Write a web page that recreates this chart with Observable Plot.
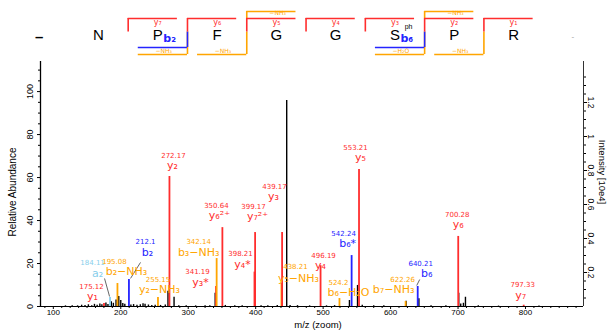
<!DOCTYPE html>
<html><head><meta charset="utf-8">
<script src="https://cdn.jsdelivr.net/npm/d3@7"></script>
<script src="https://cdn.jsdelivr.net/npm/@observablehq/plot@0.6"></script>
<style>
html,body{margin:0;padding:0;background:#fff;}
#seq svg,#main svg{display:block;}
</style></head><body>
<div id="seq"></div><div id="main"></div>
<script>
// ---------- DATA ----------
const residues = ["N","P","F","G","G","S","P","R"];
const modSites = [5];
const modLabels = ["ph"];
const yIonNums = [7,6,5,4,3,2,1];
const yLossNums = [5,2];
const yLossLabels = ["−NH₃","−NH₃"];
const bIonNums = [2,6];
const bLossNums = [2,3,6,7];
const bLossLabels = ["−NH₃","−NH₃","−H₂O","−NH₃"];

const ionMz  = [175.12,184.11,195.08,212.1,255.15,272.17,341.19,342.14,350.64,398.21,399.17,438.21,439.17,496.19,524.2,542.24,553.21,622.26,640.21,700.28,797.33];
const ionRel = [1.4,4.2,10.7,12.6,4.2,60.5,9.3,22.3,36.7,16,34.4,10.7,34.4,19,3.7,23.7,63.7,2.3,9.3,32.6,0.6];
const ionType = ["y","a","bloss","b","yloss","y","y","bloss","y","y","y","yloss","y","y","bloss","b","y","bloss","b","y","y"];
const ionLabel = ["y₁","a₂","b₂−NH₃","b₂","y₂−NH₃","y₂","y₃*","b₃−NH₃","y₆²⁺","y₄*","y₇²⁺","y₅−NH₃","y₃","y₄","b₆−H₂O","b₆*","y₅","b₇−NH₃","b₆","y₆","y₇"];

const noiseMz  = [118,128,136,142,147,152,157,161,165,169,172,178,181,186,189,193,197,200,203,206,215,219,224,229,233,236,241,246,251,259,266,270,279,286,297,311,325,332,340,355,369,380,408,418,432,446,451,462,480,505,517,539,551,558,575,590,623,642,660,682,701,704,708,711,730,760,820];
const noiseRel = [0.3,0.4,0.3,0.6,0.5,0.8,0.4,1.0,0.6,1.2,0.8,1.6,0.9,2.2,1.5,3.0,4.6,2.8,1.4,1.0,0.7,0.9,0.6,0.8,1.3,1.0,0.7,0.5,0.6,0.5,0.7,7.1,4.3,0.4,0.3,0.3,0.4,0.4,6.2,0.5,0.4,0.3,0.4,0.3,0.5,95.8,0.5,0.4,0.3,0.3,0.4,2.8,9.8,0.6,0.3,0.3,2.5,3.6,0.3,0.4,6.2,1.2,1.5,4.3,0.3,0.2,0.2];

const xMajor = [100,200,300,400,500,600,700,800];
const yMajor = [0,20,40,60,80,100];
const rMajor = [0.2,0.4,0.6,0.8,1,1.2];
const intensityPerUnit = 79.1; // relative-abundance units per 1e4 intensity

// ---------- LAYOUT / STYLE ----------
const RED = "#ff2d2d", ORANGE = "#ffa500", BLUE = "#2424ff", LBLUE = "#87ceeb";
const colorOf = {y: RED, yloss: ORANGE, bloss: ORANGE, b: BLUE, a: LBLUE};
// label offsets in px from peak top: [nameDx, nameDy, mzDx, mzDy]
const labelOff = [[-11.5,-7,-12.5,-17],[-12.5,-24,-17.5,-34.5],[9,-12,-3,-22],[18.6,-27,16.6,-37.5],[1.5,-8,0,-18],[3,-11,4,-21],[-15.5,-4,-18.5,-14.5],[-18,-6,-18,-16.5],[-3,-12,-6,-22],[-12,-7.6,-14,-18],[2.4,-16,-1.6,-26],[17,-5,14,-16.5],[-8.6,-36,-7.6,-46],[0,0,3,-10],[9,-6,-1,-16],[-4,-12,-8,-22],[1.5,-12,-3.5,-22],[-12,-12,-3,-22],[9,-13,3,-23],[0,-12,-1,-22],[-3,-10,-1,-20]];
const leaders = [{i:1, o:[-5.5,-19,-0.5,-1]},{i:3, o:[11.6,-17,1.6,-1]},{i:18, o:[2,-7,-1,-1]}];

const X0 = 81, X1 = 886, YMAX = 114;
const W = 610, H = 274, ML = 40, MR = 27, MT = 3, MB = 26;
const SX = (W - ML - MR) / (X1 - X0), SY = (H - MT - MB) / YMAX;

const sub = n => String(n).split("").map(c => "₀₁₂₃₄₅₆₇₈₉"[+c]).join("");
const ANN = "DejaVu Sans, Verdana, sans-serif";

// ---------- SEQUENCE ----------
const tier = {yLoss:22, yIon:15, edge:1.5, bIon:-14, bLoss:-21};
const yb = k => residues.length - k - 0.5;
const bb = k => k - 0.5;
const L = 0.83;
const c = v => () => v;

const seq = Plot.plot({
  width: W, height: 58, marginTop: 0, marginBottom: 0, marginLeft: 68.4, marginRight: 67.3,
  x: {domain: [-0.5, 7.5], axis: null},
  y: {domain: [-25, 33], axis: null},
  style: {fontFamily: "Liberation Sans, Arial, sans-serif", background: "white"},
  marks: [
    Plot.ruleX(bLossNums, {x: bb, y1: c(tier.edge), y2: c(tier.bLoss), stroke: ORANGE, strokeWidth: 1.6}),
    Plot.ruleY(bLossNums, {y: c(tier.bLoss), x1: k => bb(k) - L, x2: bb, stroke: ORANGE, strokeWidth: 1.6}),
    Plot.text(bLossNums, {x: k => bb(k) - 0.4, y: c(-17.6), text: (k, i) => bLossLabels[i], fill: ORANGE, fontSize: 6, fontFamily: ANN}),
    Plot.ruleX(yLossNums, {x: yb, y1: c(tier.yIon), y2: c(tier.yLoss), stroke: ORANGE, strokeWidth: 1.6}),
    Plot.ruleY(yLossNums, {y: c(tier.yLoss), x1: yb, x2: k => yb(k) + L, stroke: ORANGE, strokeWidth: 1.6}),
    Plot.text(yLossNums, {x: k => yb(k) + 0.52, y: c(20), text: (k, i) => yLossLabels[i], fill: ORANGE, fontSize: 6, fontFamily: ANN}),
    Plot.ruleX(bIonNums, {x: bb, y1: c(tier.edge), y2: c(tier.bIon), stroke: BLUE, strokeWidth: 1.6}),
    Plot.ruleY(bIonNums, {y: c(tier.bIon), x1: k => bb(k) - L, x2: bb, stroke: BLUE, strokeWidth: 1.6}),
    Plot.text(bIonNums, {x: k => bb(k) - 0.3, y: c(-5), text: k => "b" + sub(k), fill: BLUE, fontSize: 11, fontWeight: "bold", fontFamily: ANN}),
    Plot.ruleX(yIonNums, {x: yb, y1: c(tier.edge), y2: c(tier.yIon), stroke: RED, strokeWidth: 1.6}),
    Plot.ruleY(yIonNums, {y: c(tier.yIon), x1: yb, x2: k => yb(k) + L, stroke: RED, strokeWidth: 1.6}),
    Plot.text(yIonNums, {x: k => yb(k) + 0.5, y: c(11.5), text: k => "y" + sub(k), fill: RED, fontSize: 8, fontFamily: ANN}),
    Plot.text(residues, {x: (d, i) => i, y: c(-2), text: d => d, fontSize: 15}),
    Plot.text(modSites, {x: i => i + 0.23, y: c(7), text: (d, i) => modLabels[i], fontSize: 7}),
    Plot.text(["–"], {x: c(-1), y: c(-4), text: d => d, fontSize: 15, fontWeight: "bold"}),
    Plot.text(["-"], {x: c(8), y: c(-3), text: d => d, fontSize: 8, fill: "#999"})
  ]
});
document.getElementById("seq").appendChild(seq);

// ---------- SPECTRUM ----------
const idx = d3.range(ionMz.length);
const nidx = d3.range(noiseMz.length);
const xMinor = d3.range(87.5, X1, 12.5).filter(v => v > X0 && v % 100 !== 0);
const yMinor = d3.range(5, YMAX, 5).filter(v => v % 20 !== 0);
const rMinor = d3.range(0.05, 1.4, 0.05).map(v => +v.toFixed(2)).filter(v => Math.round(v * 100) % 20 !== 0 && v * intensityPerUnit < YMAX);

const main = Plot.plot({
  width: W, height: H, marginLeft: ML, marginRight: MR, marginTop: MT, marginBottom: MB,
  x: {domain: [X0, X1]},
  y: {domain: [0, YMAX]},
  color: {type: "identity"},
  style: {fontFamily: "Liberation Sans, Arial, sans-serif", fontSize: "9px", background: "white"},
  marks: [
    Plot.axisX(xMajor, {tickSize: 3, tickPadding: 0, label: null, fontSize: 8}),
    Plot.axisX(xMinor, {tickSize: 2, text: null, label: null}),
    Plot.axisY(yMajor, {tickSize: 3, text: null, label: null}),
    Plot.axisY(yMinor, {tickSize: 2, text: null, label: null}),
    Plot.text(yMajor, {y: d => d, frameAnchor: "left", textAnchor: "middle", lineAnchor: "middle", dx: -10, rotate: -90, text: d => String(d), fontSize: 9}),
    Plot.axisY(rMajor.map(t => t * intensityPerUnit), {anchor: "right", tickSize: 3, text: null, label: null}),
    Plot.axisY(rMinor.map(t => t * intensityPerUnit), {anchor: "right", tickSize: 2, text: null, label: null}),
    Plot.text(rMajor, {y: t => t * intensityPerUnit, frameAnchor: "right", textAnchor: "middle", lineAnchor: "middle", dx: 7, rotate: 90, text: t => String(t), fontSize: 8.5}),
    Plot.text(["Relative Abundance"], {frameAnchor: "left", textAnchor: "middle", lineAnchor: "middle", dx: -28, dy: 8, rotate: -90, text: d => d, fontSize: 10}),
    Plot.text(["Intensity [10e4]"], {frameAnchor: "right", textAnchor: "middle", lineAnchor: "middle", dx: 19, dy: -12, rotate: 90, text: d => d, fontSize: 9.5}),
    Plot.text(["m/z (zoom)"], {frameAnchor: "bottom", textAnchor: "middle", lineAnchor: "middle", dx: 6, dy: 18, text: d => d, fontSize: 9.5}),
    // peaks
    Plot.ruleX(nidx, {x: i => noiseMz[i], y1: c(0), y2: i => noiseRel[i], stroke: "black", strokeWidth: 1.4}),
    Plot.ruleX(idx, {x: i => ionMz[i], y1: c(0), y2: i => ionRel[i], stroke: i => colorOf[ionType[i]], strokeWidth: 1.8}),
    // leaders
    Plot.link(leaders, {
      x1: d => ionMz[d.i] + d.o[0] / SX, y1: d => ionRel[d.i] - d.o[1] / SY,
      x2: d => ionMz[d.i] + d.o[2] / SX, y2: d => ionRel[d.i] - d.o[3] / SY,
      stroke: "#666", strokeWidth: 1
    }),
    // labels
    Plot.text(idx, {x: i => ionMz[i] + labelOff[i][2] / SX, y: i => ionRel[i] - labelOff[i][3] / SY,
      text: i => String(ionMz[i]), fill: i => colorOf[ionType[i]], fontSize: 7, fontFamily: ANN}),
    Plot.text(idx, {x: i => ionMz[i] + labelOff[i][0] / SX, y: i => ionRel[i] - labelOff[i][1] / SY,
      text: i => ionLabel[i], fill: i => colorOf[ionType[i]], fontSize: 11, fontFamily: ANN}),
    // axis lines
    Plot.ruleX([X0], {stroke: "black", strokeWidth: 1.3}),
    Plot.ruleX([X1], {stroke: "#333", strokeWidth: 1}),
    Plot.ruleY([0], {stroke: "black", strokeWidth: 1.2})
  ]
});
document.getElementById("main").appendChild(main);
</script></body></html>
